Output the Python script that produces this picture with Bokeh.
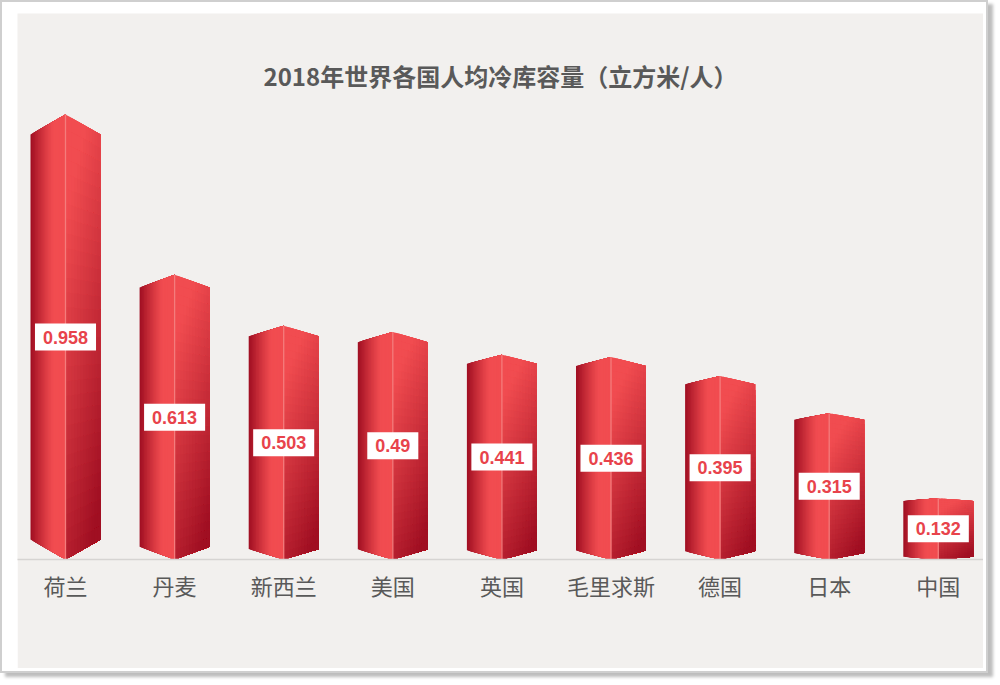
import numpy as np
from bokeh.plotting import figure
from bokeh.models import Range1d, FixedTicker, Label, ColumnDataSource, Column
from bokeh.embed import file_html
from bokeh.resources import INLINE
from bokeh.core.properties import value as pv

# ---- data ----
countries = ["荷兰", "丹麦", "新西兰", "美国", "英国", "毛里求斯", "德国", "日本", "中国"]
values = [0.958, 0.613, 0.503, 0.49, 0.441, 0.436, 0.395, 0.315, 0.132]
value_labels = ["0.958", "0.613", "0.503", "0.49", "0.441", "0.436", "0.395", "0.315", "0.132"]
title_text = "2018年世界各国人均冷库容量（立方米/人）"

# ---- style ----
BG = "#F2F0EE"
BRIGHT = np.array([241, 76, 80])
DARK = np.array([156, 12, 32])
TXT = "#595959"
CJK = "Noto Sans CJK SC"

PX_X = 109.1      # px per category
PX_Y = 464.5      # px per unit value
FRAME_W, FRAME_H = 966, 546
x_start = -48 / PX_X
x_end = x_start + FRAME_W / PX_X
y_end = FRAME_H / PX_Y


def mix(d):
    c = BRIGHT * (1 - d) + DARK * d
    return "#%02x%02x%02x" % tuple(int(round(x)) for x in c)


p = figure(width=966, height=655, margin=(11, 7, 7, 15),
           output_backend="svg", toolbar_location=None,
           x_range=Range1d(x_start, x_end), y_range=Range1d(0, y_end),
           min_border_left=0, min_border_right=0, min_border_top=0,
           min_border_bottom=655 - FRAME_H,
           background_fill_color=BG, border_fill_color=BG,
           outline_line_color=None)
p.grid.visible = False
p.yaxis.visible = False
xa = p.xaxis[0]
xa.ticker = FixedTicker(ticks=list(range(len(countries))))
xa.major_label_overrides = {i: c for i, c in enumerate(countries)}
xa.major_tick_line_color = None
xa.minor_tick_line_color = None
xa.axis_line_color = "#D6D4D2"
xa.axis_line_width = 1.4
xa.major_label_text_font = CJK
xa.major_label_text_font_size = "22px"
xa.major_label_text_color = TXT
xa.major_label_standoff = 3

# ---- bars as 3D prisms; gradients from nested (overlapping) pieces ----
bar_w = 70 / PX_X
half = bar_w / 2
NL = 24
NU, NT = 12, 30
xs, ys, cols = [], [], []
for i, v in enumerate(values):
    s = 0.045 * v
    xl = i - half
    # left face: piece j covers from u0 to the ridge
    for j in range(NL):
        u0 = j / NL
        x0 = xl + u0 * half
        t0, b0 = v - s * (1 - u0), s * (1 - u0)
        um = (j + 0.5) / NL
        d = max(0.0, 1 - um / 0.66) ** 1.2 * 0.97
        xs.append([x0, i, i, x0])
        ys.append([t0, v, 0, b0])
        cols.append(mix(d))
    # right face: piece (a, b) covers [u0, 1] x [q0, 1]
    for b in range(NT):
        q0 = b / NT
        qm = (b + 0.5) / NT
        for a in range(NU):
            u0 = a / NU
            um = (a + 0.5) / NU
            x0, x1 = i + u0 * half, i + half
            top0, top1 = v - s * u0, v - s
            bot0, bot1 = s * u0, s
            y00 = top0 + (bot0 - top0) * q0
            y10 = top1 + (bot1 - top1) * q0
            d = min(0.95, max(0.0, 0.9 * qm + 0.35 * um - 0.2))
            xs.append([x0, x1, x1, x0])
            ys.append([y00, y10, bot1, bot0])
            cols.append(mix(d))

src = ColumnDataSource(dict(xs=xs, ys=ys, c=cols))
p.patches("xs", "ys", source=src, fill_color="c", line_color=None)

idx = list(range(len(values)))
p.segment(x0=idx, y0=[0] * len(values), x1=idx, y1=values,
          line_color="#F47C7C", line_width=1.3)

# ---- value labels ----
p.text(x=idx, y=[v / 2 for v in values], text=value_labels,
       text_align="center", text_baseline="middle",
       text_font=pv("Liberation Sans"), text_font_style="bold",
       text_font_size="18px", text_color="#E8434B",
       background_fill_color="#FFFFFF", padding=(8, 7))

# ---- title ----
title = Label(x=x_start + 483 / PX_X, y=y_end - (75 - 13) / PX_Y, text=title_text,
              text_align="center", text_baseline="middle",
              text_font=CJK, text_font_style="bold", text_font_size="24px",
              text_color=TXT)
p.add_layout(title)

page = Column(children=[p], width=988, height=673,
              styles={"border": "2px solid #CFCFCF",
                      "box-shadow": "5px 4px 3px #BDBDBD",
                      "background-color": "#FFFFFF"})

open("out.html", "w").write(file_html(page, INLINE))
